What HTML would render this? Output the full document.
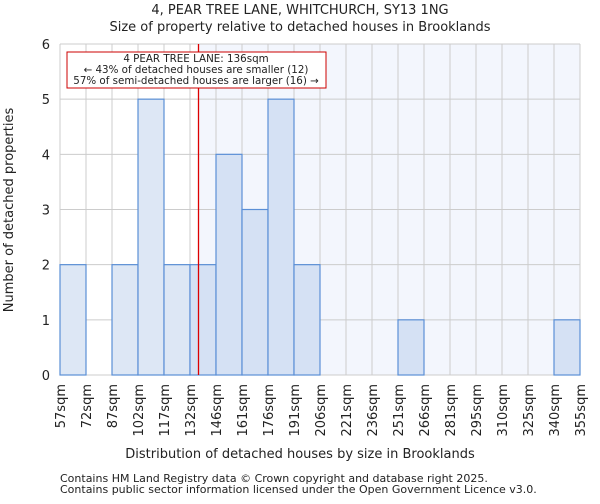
<!DOCTYPE html>
<html><head><meta charset="utf-8"><style>
body{margin:0;background:#fff;font-family:"DejaVu Sans","Liberation Sans",sans-serif;}
svg text{font-family:"DejaVu Sans","Liberation Sans",sans-serif;fill:#222;}
</style></head><body>
<svg id="c" width="600" height="500" xmlns="http://www.w3.org/2000/svg">
<text x="300" y="14" text-anchor="middle" font-size="13">4, PEAR TREE LANE, WHITCHURCH, SY13 1NG</text>
<text x="300" y="31" text-anchor="middle" font-size="13">Size of property relative to detached houses in Brooklands</text>
<g id="plot"></g>
<text x="300" y="458" text-anchor="middle" font-size="13">Distribution of detached houses by size in Brooklands</text>
<text transform="translate(13,210) rotate(-90)" text-anchor="middle" font-size="13">Number of detached properties</text>
<text x="60" y="482" font-size="11">Contains HM Land Registry data © Crown copyright and database right 2025.</text>
<text x="60" y="493" font-size="11">Contains public sector information licensed under the Open Government Licence v3.0.</text>
</svg>
<script>
const binLabels=["57sqm","72sqm","87sqm","102sqm","117sqm","132sqm","146sqm","161sqm","176sqm","191sqm","206sqm","221sqm","236sqm","251sqm","266sqm","281sqm","295sqm","310sqm","325sqm","340sqm","355sqm"];
const binEdges=[57,72,87,102,117,132,146,161,176,191,206,221,236,251,266,281,295,310,325,340,355];
const counts=[2,0,2,5,2,2,4,3,5,2,0,0,0,1,0,0,0,0,0,1];
const yTicks=[0,1,2,3,4,5,6];
const markerValue=136;
const NS="http://www.w3.org/2000/svg";
const L=60,R=580,T=44,B=375,yMax=6;
const n=counts.length;
const xi=i=>L+(R-L)*i/n;
const xv=v=>{let i=0;while(i<n-1&&v>binEdges[i+1])i++;return xi(i)+(v-binEdges[i])/(binEdges[i+1]-binEdges[i])*(R-L)/n;};
const y=v=>B-(B-T)*v/yMax;
const g=document.getElementById('plot');
function mk(t,a){const e=document.createElementNS(NS,t);for(const k in a)e.setAttribute(k,a[k]);g.appendChild(e);return e;}
const mx=Math.round(xv(markerValue))+1.5;
let e=mk('rect',{x:L,y:T,width:mx-L,height:B-T,fill:'#ffffff'});


e=mk('rect',{x:mx,y:T,width:R-mx,height:B-T,fill:'#f3f6fd'});


for(let i=0;i<=n;i++){e=mk('line',{x1:xi(i),x2:xi(i),y1:T,y2:B,stroke:'#cccccc','stroke-width':1});

}
yTicks.forEach(t=>{e=mk('line',{x1:L,x2:R,y1:y(t),y2:y(t),stroke:'#cccccc','stroke-width':1});


const tx=mk('text',{x:L-10,y:y(t)+5,'text-anchor':'end','font-size':13});tx.textContent=t;

});
counts.forEach((c,i)=>{if(!c)return;const left=binEdges[i+1]<=markerValue;
e=mk('rect',{x:xi(i),y:y(c),width:xi(i+1)-xi(i),height:B-y(c),fill:left?'#dde7f5':'#d5e1f4',stroke:'#5b8fd6','stroke-width':1.2});

});
binLabels.forEach((l,i)=>{const tx=mk('text',{transform:`translate(${xi(i)+5},384) rotate(-90)`,'text-anchor':'end','font-size':13});tx.textContent=l;

});
e=mk('line',{x1:mx,x2:mx,y1:T,y2:B,stroke:'#dd0000','stroke-width':1.3});


e=mk('rect',{x:67,y:52,width:259,height:36,fill:'#fff',stroke:'#cc0000','stroke-width':1});


["4 PEAR TREE LANE: 136sqm","← 43% of detached houses are smaller (12)","57% of semi-detached houses are larger (16) →"].forEach((s,k)=>{
const tx=mk('text',{x:196,y:62+k*11,'text-anchor':'middle','font-size':10.3});tx.textContent=s;

});
</script>
</body></html>
